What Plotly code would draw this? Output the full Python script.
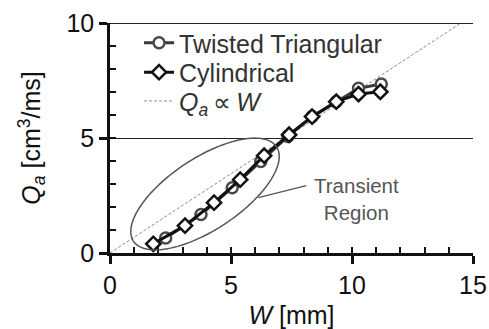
import numpy as np
import plotly.graph_objects as go

# ---- data ----
W_twisted = [2.30, 3.76, 5.05, 6.23, 7.35, 8.35, 9.35, 10.27, 11.21]
Q_twisted = [0.65, 1.67, 2.84, 3.98, 5.07, 5.93, 6.58, 7.16, 7.35]

W_cyl = [1.79, 3.10, 4.30, 5.38, 6.37, 7.40, 8.35, 9.35, 10.27, 11.17]
Q_cyl = [0.40, 1.19, 2.19, 3.19, 4.23, 5.14, 5.93, 6.58, 6.91, 7.01]

W_ref = [0.0, 14.5]
Q_ref = [0.0, 10.0]

x_ticks = [0, 5, 10, 15]
y_ticks = [0, 5, 10]

# ---- layout geometry ----
WIDTH, HEIGHT = 489, 329
ML, MR, MT, MB = 110, 16, 23, 76
XR, YR = [0, 15], [0, 10]
px_x = (WIDTH - ML - MR) / (XR[1] - XR[0])
px_y = (HEIGHT - MT - MB) / (YR[1] - YR[0])

FONT = "Liberation Sans, Arial, sans-serif"
LEG_FONT = dict(family=FONT, size=25, color="#333333")

fig = go.Figure()

fig.add_trace(go.Scatter(
    x=W_ref, y=Q_ref, mode="lines",
    name="<i>Q</i><sub><i>a</i></sub>\u2009∝\u2009<i>W</i>",
    line=dict(color="#8a8a8a", width=1, dash="3px,2px"), legend="legend3"))

fig.add_trace(go.Scatter(
    x=W_twisted, y=Q_twisted, mode="lines+markers", name="Twisted Triangular",
    line=dict(color="#3a3a3a", width=3),
    marker=dict(symbol="circle", size=11, color="white",
                line=dict(color="#4a4a4a", width=2.5)), legend="legend"))

fig.add_trace(go.Scatter(
    x=W_cyl, y=Q_cyl, mode="lines+markers", name="Cylindrical",
    line=dict(color="#111111", width=3),
    marker=dict(symbol="diamond", size=11, color="white",
                line=dict(color="#111111", width=2.5)), legend="legend2"))

# ghost trace for the overlay axes that carry the inner ticks
fig.add_trace(go.Scatter(x=[None], y=[None], xaxis="x2", yaxis="y2",
                         showlegend=False, hoverinfo="skip"))

# ---- transient-region ellipse (defined in pixel units, mapped to data) ----
cx_px, cy_px = 95.0, 59.0
a_px, b_px, theta = 85.7, 35.9, np.deg2rad(33.4)
t = np.linspace(0, 2 * np.pi, 120)
ex = (cx_px + a_px * np.cos(t) * np.cos(theta) - b_px * np.sin(t) * np.sin(theta)) / px_x
ey = (cy_px + a_px * np.cos(t) * np.sin(theta) + b_px * np.sin(t) * np.cos(theta)) / px_y
path = "M " + " L ".join(f"{x:.4f},{y:.4f}" for x, y in zip(ex, ey)) + " Z"
fig.add_shape(type="path", path=path, xref="x", yref="y",
              line=dict(color="#555555", width=1.5))

# pointer line
fig.add_shape(type="line", x0=6.13, y0=2.41, x1=8.11, y1=2.93, xref="x", yref="y",
              line=dict(color="#555555", width=1.2))

# top frame line
fig.add_shape(type="line", x0=0, x1=15, y0=10, y1=10, xref="x", yref="y",
              line=dict(color="#222222", width=2))

fig.add_annotation(x=10.2, y=2.35, xref="x", yref="y", text="Transient<br>Region",
                   showarrow=False, font=dict(family=FONT, size=20.5, color="#555555"),
                   align="center")

axis_common = dict(showline=True, linecolor="#111111", linewidth=2.5,
                   tickcolor="#111111", tickwidth=2.5, ticklen=8, ticks="outside",
                   tickfont=dict(family=FONT, size=25, color="#111111"),
                   zeroline=False, automargin=False)

legend_common = dict(xanchor="left", yanchor="middle", bgcolor="rgba(0,0,0,0)",
                     borderwidth=0, font=LEG_FONT, itemwidth=30)

fig.update_layout(
    width=WIDTH, height=HEIGHT,
    margin=dict(l=ML, r=MR, t=MT, b=MB),
    paper_bgcolor="white", plot_bgcolor="white",
    showlegend=True,
    legend=dict(x=0.08, y=0.913, **legend_common),
    legend2=dict(x=0.08, y=0.785, **legend_common),
    legend3=dict(x=0.08, y=0.660, **legend_common),
    xaxis=dict(range=XR, tickvals=x_ticks, showgrid=False,
               title=dict(text="<i>W</i> [mm]", font=dict(family=FONT, size=25, color="#111111"),
                          standoff=14),
               **axis_common),
    yaxis=dict(range=YR, tickvals=y_ticks, showgrid=True, gridcolor="#222222", gridwidth=1,
               title=dict(text="<i>Q</i><sub><i>a</i></sub> [cm<sup>3</sup>/ms]",
                          font=dict(family=FONT, size=25, color="#111111"), standoff=19),
               **axis_common),
    xaxis2=dict(range=XR, overlaying="x", anchor="y", side="bottom", dtick=1,
                ticks="inside", ticklen=6, tickwidth=2, tickcolor="#111111",
                showticklabels=False, showgrid=False, showline=False, zeroline=False),
    yaxis2=dict(range=YR, overlaying="y", anchor="x", side="left", dtick=1,
                ticks="inside", ticklen=6, tickwidth=2, tickcolor="#111111",
                showticklabels=False, showgrid=False, showline=False, zeroline=False),
)

fig.write_html("out.html",
               config={"displayModeBar": False},
               post_script="document.body.style.margin='0px';"
                           "document.body.style.overflow='hidden';")
